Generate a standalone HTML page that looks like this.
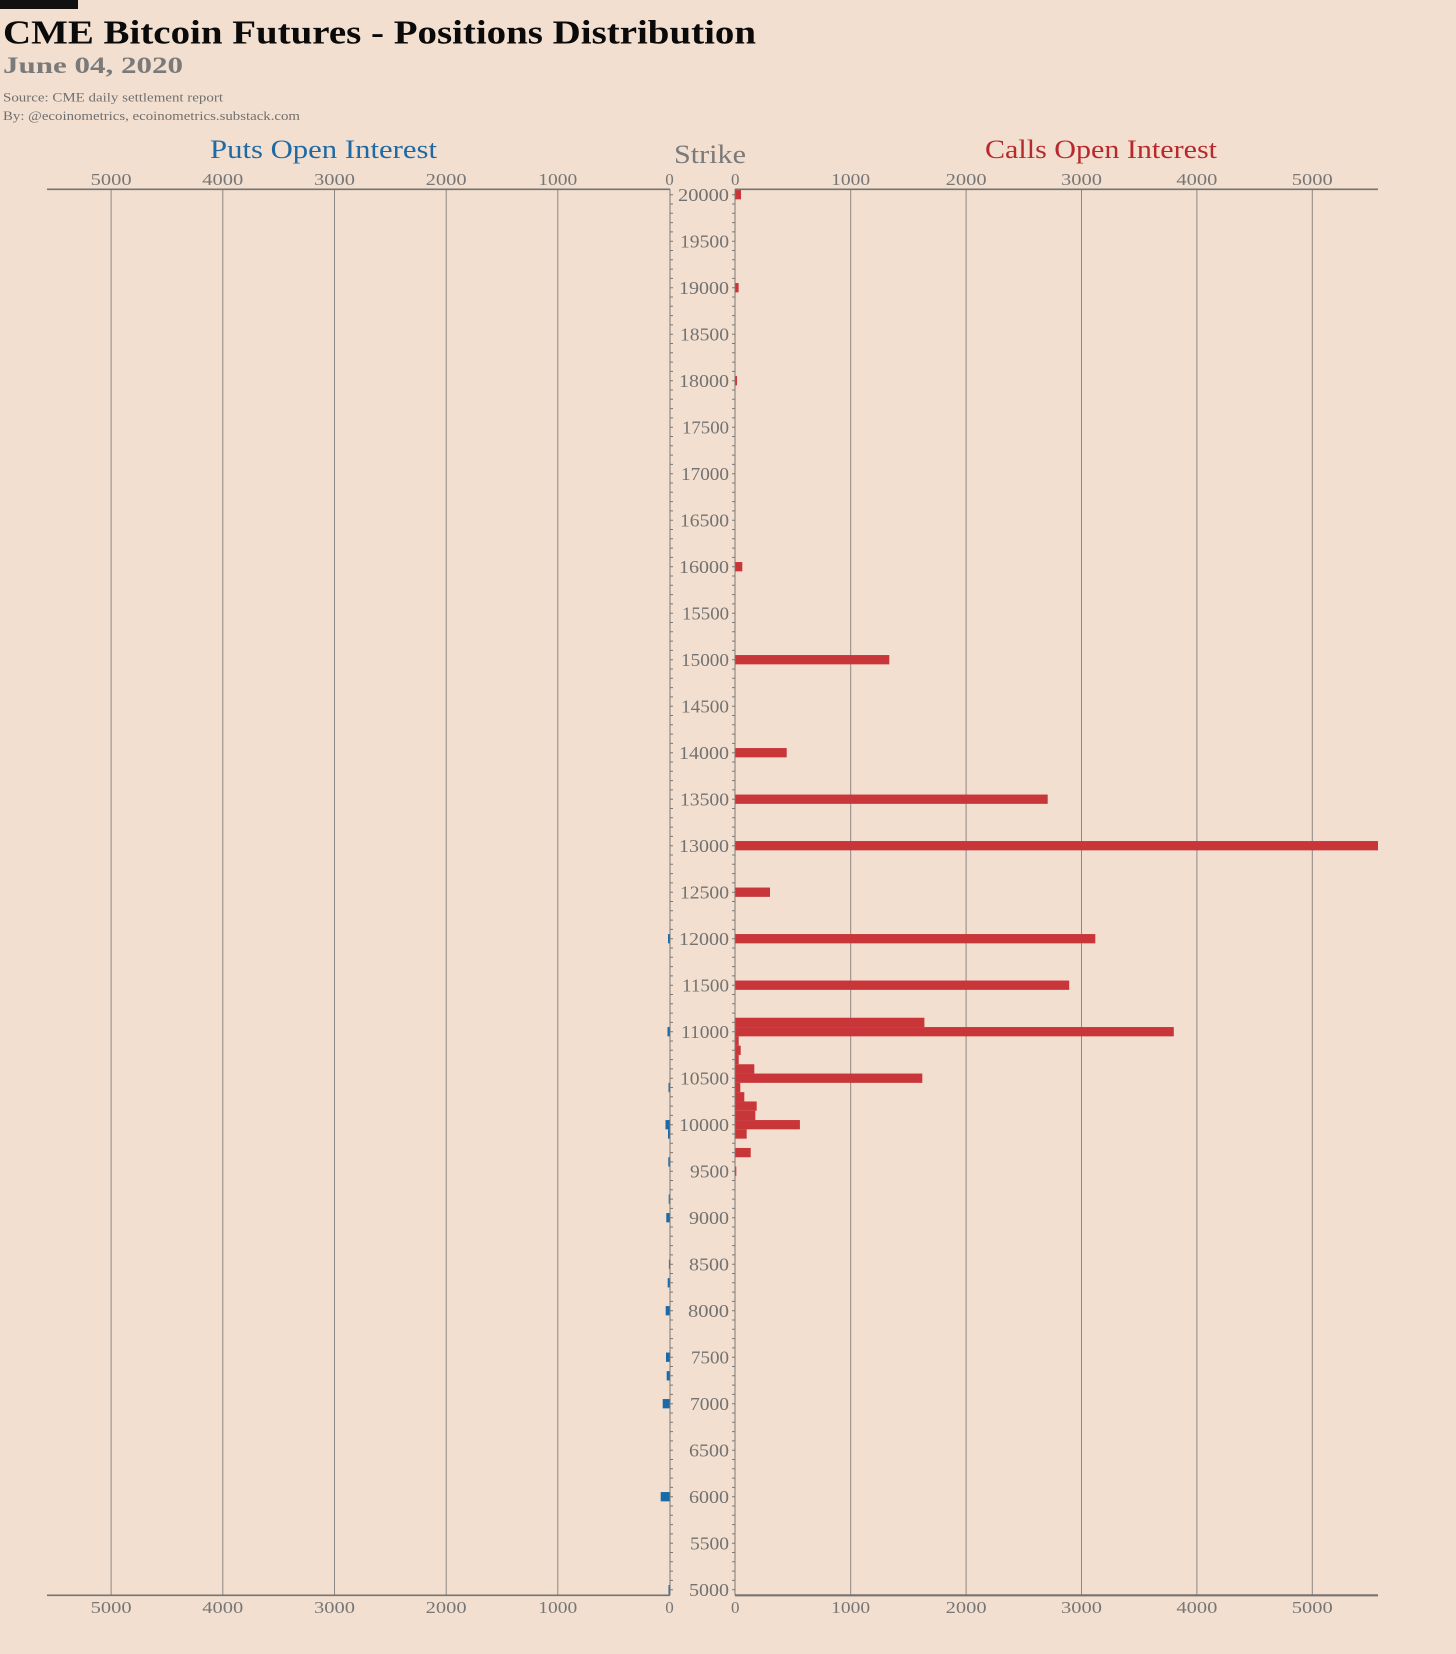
<!DOCTYPE html>
<html><head><meta charset="utf-8"><style>
html,body{margin:0;padding:0;background:#f2dfcf;}
svg{display:block;}
text{font-family:"Liberation Serif",serif;}
</style></head><body>
<svg width="1456" height="1654" viewBox="0 0 1456 1654" xmlns="http://www.w3.org/2000/svg">
<rect x="0" y="0" width="1456" height="1654" fill="#f2dfcf"/>
<rect x="0" y="0" width="78" height="9" fill="#111"/>
<text x="3" y="43.3" font-size="34" font-weight="bold" fill="#0a0a0a" textLength="753" lengthAdjust="spacingAndGlyphs">CME Bitcoin Futures - Positions Distribution</text>
<text x="3" y="73" font-size="23" font-weight="bold" fill="#7a7a7a" textLength="180" lengthAdjust="spacingAndGlyphs">June 04, 2020</text>
<text x="3" y="101.7" font-size="13" fill="#707070" textLength="220" lengthAdjust="spacingAndGlyphs">Source: CME daily settlement report</text>
<text x="3" y="120" font-size="13" fill="#707070" textLength="297" lengthAdjust="spacingAndGlyphs">By: @ecoinometrics, ecoinometrics.substack.com</text>

<text x="210" y="158" font-size="26" fill="#1f6aa5" textLength="227" lengthAdjust="spacingAndGlyphs">Puts Open Interest</text>
<text x="674" y="163" font-size="26" fill="#7a7a7a" textLength="72" lengthAdjust="spacingAndGlyphs">Strike</text>
<text x="985" y="158" font-size="26" fill="#b8292d" textLength="232" lengthAdjust="spacingAndGlyphs">Calls Open Interest</text>

<!-- gridlines -->
<g stroke="#8c8783" stroke-width="1">
<line x1="111.1" y1="189.3" x2="111.1" y2="1595.3"/>
<line x1="222.8" y1="189.3" x2="222.8" y2="1595.3"/>
<line x1="334.5" y1="189.3" x2="334.5" y2="1595.3"/>
<line x1="446.2" y1="189.3" x2="446.2" y2="1595.3"/>
<line x1="557.8" y1="189.3" x2="557.8" y2="1595.3"/>
<line x1="850.7" y1="189.3" x2="850.7" y2="1595.3"/>
<line x1="966.1" y1="189.3" x2="966.1" y2="1595.3"/>
<line x1="1081.5" y1="189.3" x2="1081.5" y2="1595.3"/>
<line x1="1196.9" y1="189.3" x2="1196.9" y2="1595.3"/>
<line x1="1312.3" y1="189.3" x2="1312.3" y2="1595.3"/>
</g>

<!-- call bars -->
<g fill="#c8363a">
<rect x="735.3" y="190.05" width="5.7" height="9.3"/>
<rect x="735.3" y="283.05" width="3.3" height="9.3"/>
<rect x="735.3" y="376.05" width="1.7" height="9.3"/>
<rect x="735.3" y="562.05" width="7.0" height="9.3"/>
<rect x="735.3" y="655.05" width="154" height="9.3"/>
<rect x="735.3" y="748.05" width="51.4" height="9.3"/>
<rect x="735.3" y="794.55" width="312.4" height="9.3"/>
<rect x="735.3" y="841.05" width="642.7" height="9.3"/>
<rect x="735.3" y="887.55" width="34.7" height="9.3"/>
<rect x="735.3" y="934.05" width="360" height="9.3"/>
<rect x="735.3" y="980.55" width="333.9" height="9.3"/>
<rect x="735.3" y="1017.75" width="189.1" height="9.3"/>
<rect x="735.3" y="1027.05" width="438.5" height="9.3"/>
<rect x="735.3" y="1036.35" width="3.4" height="9.3"/>
<rect x="735.3" y="1045.65" width="5.4" height="9.3"/>
<rect x="735.3" y="1054.95" width="3.4" height="9.3"/>
<rect x="735.3" y="1064.25" width="19" height="9.3"/>
<rect x="735.3" y="1073.55" width="187" height="9.3"/>
<rect x="735.3" y="1082.85" width="5" height="9.3"/>
<rect x="735.3" y="1092.15" width="9" height="9.3"/>
<rect x="735.3" y="1101.45" width="21.4" height="9.3"/>
<rect x="735.3" y="1110.75" width="20" height="9.3"/>
<rect x="735.3" y="1120.05" width="64.6" height="9.3"/>
<rect x="735.3" y="1129.35" width="11.4" height="9.3"/>
<rect x="735.3" y="1147.95" width="15.4" height="9.3"/>
<rect x="735.3" y="1166.55" width="1" height="9.3"/>
</g>

<!-- put bars -->
<g fill="#1a6aa9">
<rect x="668" y="934.05" width="1.5" height="9.3"/>
<rect x="667.5" y="1027.05" width="2" height="9.3"/>
<rect x="668.5" y="1082.85" width="1" height="9.3"/>
<rect x="665.5" y="1120.05" width="4" height="9.3"/>
<rect x="668" y="1129.35" width="1.5" height="9.3"/>
<rect x="668.3" y="1157.25" width="1.2" height="9.3"/>
<rect x="668.7" y="1194.45" width="0.8" height="9.3"/>
<rect x="666.3" y="1213.05" width="3.2" height="9.3"/>
<rect x="668.9" y="1259.55" width="0.6" height="9.3"/>
<rect x="667.7" y="1278.15" width="1.8" height="9.3"/>
<rect x="665.7" y="1306.05" width="3.8" height="9.3"/>
<rect x="666" y="1352.55" width="3.5" height="9.3"/>
<rect x="666.7" y="1371.15" width="2.8" height="9.3"/>
<rect x="662.7" y="1399.05" width="6.8" height="9.3"/>
<rect x="660.7" y="1492.05" width="8.8" height="9.3"/>
<rect x="668.5" y="1585.05" width="1" height="9.3"/>
</g>

<!-- vertical axes with minor ticks -->
<g stroke="#7c7875">
<line x1="670" y1="189.3" x2="670" y2="1595.3" stroke-width="1"/>
<line x1="735" y1="189.3" x2="735" y2="1595.3" stroke-width="1"/>
<line x1="671.5" y1="194.2" x2="671.5" y2="1591" stroke-width="3" stroke-dasharray="1 8.3"/>
<line x1="733.5" y1="194.2" x2="733.5" y2="1591" stroke-width="3" stroke-dasharray="1 8.3"/>
</g>

<!-- horizontal axes -->
<g stroke="#777370" stroke-width="1.6">
<line x1="47" y1="189.3" x2="670" y2="189.3"/>
<line x1="735" y1="189.3" x2="1378" y2="189.3"/>
<line x1="47" y1="1595.3" x2="670" y2="1595.3"/>
<line x1="735" y1="1595.3" x2="1378" y2="1595.3" stroke-width="2.2"/>
</g>

<!-- top tick labels -->
<g font-size="17" fill="#767676" text-anchor="middle">
<text x="111.1" y="185" textLength="41" lengthAdjust="spacingAndGlyphs">5000</text>
<text x="222.8" y="185" textLength="41" lengthAdjust="spacingAndGlyphs">4000</text>
<text x="334.5" y="185" textLength="41" lengthAdjust="spacingAndGlyphs">3000</text>
<text x="446.2" y="185" textLength="41" lengthAdjust="spacingAndGlyphs">2000</text>
<text x="557.8" y="185" textLength="39" lengthAdjust="spacingAndGlyphs">1000</text>
<text x="669.5" y="185">0</text>
<text x="735.3" y="185">0</text>
<text x="850.7" y="185" textLength="39" lengthAdjust="spacingAndGlyphs">1000</text>
<text x="966.1" y="185" textLength="41" lengthAdjust="spacingAndGlyphs">2000</text>
<text x="1081.5" y="185" textLength="41" lengthAdjust="spacingAndGlyphs">3000</text>
<text x="1196.9" y="185" textLength="41" lengthAdjust="spacingAndGlyphs">4000</text>
<text x="1312.3" y="185" textLength="41" lengthAdjust="spacingAndGlyphs">5000</text>
</g>
<!-- bottom tick labels -->
<g font-size="17" fill="#767676" text-anchor="middle">
<text x="111.1" y="1613" textLength="41" lengthAdjust="spacingAndGlyphs">5000</text>
<text x="222.8" y="1613" textLength="41" lengthAdjust="spacingAndGlyphs">4000</text>
<text x="334.5" y="1613" textLength="41" lengthAdjust="spacingAndGlyphs">3000</text>
<text x="446.2" y="1613" textLength="41" lengthAdjust="spacingAndGlyphs">2000</text>
<text x="557.8" y="1613" textLength="39" lengthAdjust="spacingAndGlyphs">1000</text>
<text x="669.5" y="1613">0</text>
<text x="735.3" y="1613">0</text>
<text x="850.7" y="1613" textLength="39" lengthAdjust="spacingAndGlyphs">1000</text>
<text x="966.1" y="1613" textLength="41" lengthAdjust="spacingAndGlyphs">2000</text>
<text x="1081.5" y="1613" textLength="41" lengthAdjust="spacingAndGlyphs">3000</text>
<text x="1196.9" y="1613" textLength="41" lengthAdjust="spacingAndGlyphs">4000</text>
<text x="1312.3" y="1613" textLength="41" lengthAdjust="spacingAndGlyphs">5000</text>
</g>

<!-- strike labels -->
<g font-size="18" fill="#727272" text-anchor="end" lengthAdjust="spacingAndGlyphs">
<text x="729" y="201.2" textLength="51" lengthAdjust="spacingAndGlyphs">20000</text>
<text x="729" y="247.7" textLength="49" lengthAdjust="spacingAndGlyphs">19500</text>
<text x="729" y="294.2" textLength="50" lengthAdjust="spacingAndGlyphs">19000</text>
<text x="729" y="340.7" textLength="49" lengthAdjust="spacingAndGlyphs">18500</text>
<text x="729" y="387.2" textLength="50" lengthAdjust="spacingAndGlyphs">18000</text>
<text x="729" y="433.7" textLength="47" lengthAdjust="spacingAndGlyphs">17500</text>
<text x="729" y="480.2" textLength="48" lengthAdjust="spacingAndGlyphs">17000</text>
<text x="729" y="526.7" textLength="49" lengthAdjust="spacingAndGlyphs">16500</text>
<text x="729" y="573.2" textLength="50" lengthAdjust="spacingAndGlyphs">16000</text>
<text x="729" y="619.7" textLength="47" lengthAdjust="spacingAndGlyphs">15500</text>
<text x="729" y="666.2" textLength="48" lengthAdjust="spacingAndGlyphs">15000</text>
<text x="729" y="712.7" textLength="48" lengthAdjust="spacingAndGlyphs">14500</text>
<text x="729" y="759.2" textLength="50" lengthAdjust="spacingAndGlyphs">14000</text>
<text x="729" y="805.7" textLength="49" lengthAdjust="spacingAndGlyphs">13500</text>
<text x="729" y="852.2" textLength="50" lengthAdjust="spacingAndGlyphs">13000</text>
<text x="729" y="898.7" textLength="49" lengthAdjust="spacingAndGlyphs">12500</text>
<text x="729" y="945.2" textLength="50" lengthAdjust="spacingAndGlyphs">12000</text>
<text x="729" y="991.7" textLength="47" lengthAdjust="spacingAndGlyphs">11500</text>
<text x="729" y="1038.2" textLength="48" lengthAdjust="spacingAndGlyphs">11000</text>
<text x="729" y="1084.7" textLength="49" lengthAdjust="spacingAndGlyphs">10500</text>
<text x="729" y="1131.2" textLength="50" lengthAdjust="spacingAndGlyphs">10000</text>
<text x="729" y="1177.7" textLength="39" lengthAdjust="spacingAndGlyphs">9500</text>
<text x="729" y="1224.2" textLength="40" lengthAdjust="spacingAndGlyphs">9000</text>
<text x="729" y="1270.7" textLength="40" lengthAdjust="spacingAndGlyphs">8500</text>
<text x="729" y="1317.2" textLength="41" lengthAdjust="spacingAndGlyphs">8000</text>
<text x="729" y="1363.7" textLength="38" lengthAdjust="spacingAndGlyphs">7500</text>
<text x="729" y="1410.2" textLength="39" lengthAdjust="spacingAndGlyphs">7000</text>
<text x="729" y="1456.7" textLength="40" lengthAdjust="spacingAndGlyphs">6500</text>
<text x="729" y="1503.2" textLength="40" lengthAdjust="spacingAndGlyphs">6000</text>
<text x="729" y="1549.7" textLength="39" lengthAdjust="spacingAndGlyphs">5500</text>
<text x="729" y="1596.2" textLength="40" lengthAdjust="spacingAndGlyphs">5000</text>
</g>
</svg>
</body></html>
